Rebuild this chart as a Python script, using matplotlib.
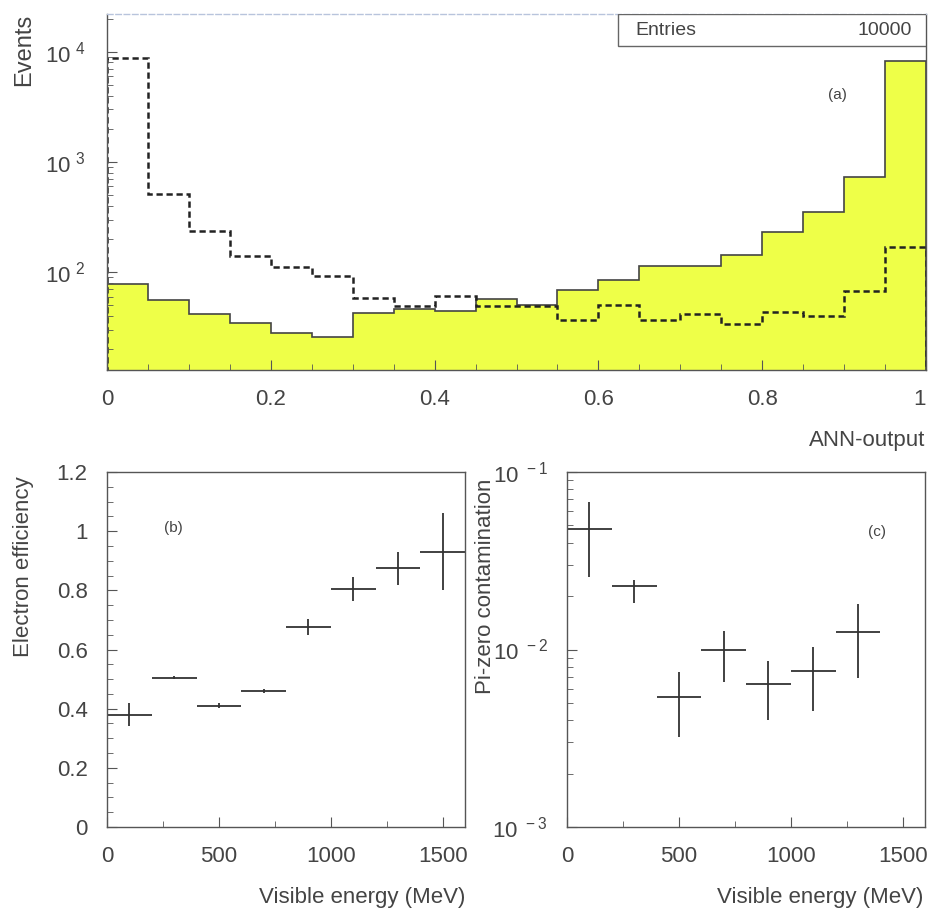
import numpy as np
import matplotlib
matplotlib.use('Agg')
import matplotlib.pyplot as plt
from matplotlib.ticker import FixedLocator, MultipleLocator, NullFormatter, LogLocator

plt.rcParams['font.family'] = ['Liberation Sans', 'DejaVu Sans']
plt.rcParams['mathtext.fontset'] = 'custom'
plt.rcParams['mathtext.rm'] = 'Liberation Sans'

# (a) ANN output histograms, 20 bins of 0.05
ann_edges = [0.0, 0.05, 0.1, 0.15, 0.2, 0.25, 0.3, 0.35, 0.4, 0.45, 0.5,
             0.55, 0.6, 0.65, 0.7, 0.75, 0.8, 0.85, 0.9, 0.95, 1.0]
electrons = [79, 56, 42, 35, 28, 26, 43, 46, 45, 57, 50,
             69, 86, 113, 113, 143, 234, 351, 730, 8300]
pizeros = [8800, 515, 236, 140, 111, 92, 59, 49, 61, 49, 49,
           37, 51, 37, 42, 34, 44, 40, 67, 168]
entries = 10000

# (b) electron efficiency vs visible energy
energy_b = [100, 300, 500, 700, 900, 1100, 1300, 1500]
eff = [0.38, 0.505, 0.41, 0.46, 0.675, 0.805, 0.875, 0.93]
eff_err = [0.04, 0.005, 0.008, 0.006, 0.027, 0.04, 0.056, 0.13]

# (c) pi-zero contamination vs visible energy
energy_c = [100, 300, 500, 700, 900, 1100, 1300]
contam = [0.048, 0.0228, 0.0054, 0.0100, 0.0064, 0.0076, 0.0126]
contam_lo = [0.0257, 0.0183, 0.0032, 0.0066, 0.0040, 0.0045, 0.0069]
contam_hi = [0.0678, 0.0247, 0.0075, 0.0127, 0.0086, 0.0103, 0.0180]
bin_half = 100

yellow = '#EEFF48'
fs = 16

fig = plt.figure(figsize=(9.3, 9.13), dpi=100)

def frame(ax):
    for s in ax.spines.values():
        s.set_color('#555555')
        s.set_linewidth(1.0)
    ax.tick_params(which='both', direction='in', colors='#555555',
                   labelcolor='#444444', labelsize=fs)
    ax.tick_params(which='major', length=7)
    ax.tick_params(which='minor', length=4)

# ---- panel (a)
ax = fig.add_axes([107 / 930, 1 - 370 / 913, 819 / 930, 356 / 913])
ax.stairs(electrons, ann_edges, baseline=1, fill=True, color=yellow)
ax.stairs(electrons, ann_edges, baseline=1, color='#444444', lw=1.2)
ax.stairs(pizeros, ann_edges, baseline=1, color='#222222', lw=1.8,
          linestyle=(0, (2.5, 1.5)))
ax.set_yscale('log')
ax.set_xlim(0, 1)
ax.set_ylim(13, 22000)
frame(ax)
ax.spines['top'].set_color('#b8c4dc')
ax.spines['top'].set_linestyle((0, (4, 2)))
ax.xaxis.set_major_locator(FixedLocator([0, 0.2, 0.4, 0.6, 0.8, 1.0]))
ax.xaxis.set_minor_locator(MultipleLocator(0.05))
ax.set_xticklabels(['0', '0.2', '0.4', '0.6', '0.8', '1'])
ax.get_xticklabels()[-1].set_horizontalalignment('right')
ax.tick_params(axis='x', which='major', pad=14)
ax.yaxis.set_major_locator(FixedLocator([1e2, 1e3, 1e4]))
ax.yaxis.set_minor_locator(LogLocator(base=10, subs=np.arange(2, 10)))
ax.yaxis.set_minor_formatter(NullFormatter())
ax.set_yticklabels([r'$\mathregular{10^{\ 2}}$', r'$\mathregular{10^{\ 3}}$',
                    r'$\mathregular{10^{\ 4}}$'])
ax.tick_params(axis='y', which='major', pad=16)
ax.tick_params(top=False, right=False, which='both')
ax.add_patch(plt.Rectangle((0.624, 0.91), 0.376, 0.09, transform=ax.transAxes,
                           facecolor='white', edgecolor='#666666', lw=1.0, zorder=5))
ax.text(0.645, 0.955, 'Entries', transform=ax.transAxes, fontsize=14,
        color='#444444', va='center', zorder=6)
ax.text(0.983, 0.955, str(entries), transform=ax.transAxes, fontsize=14,
        color='#444444', va='center', ha='right', zorder=6)
ax.text(0.88, 0.76, '(a)', transform=ax.transAxes, fontsize=11, color='#444444')
fig.text(24 / 930, 1 - 14 / 913, 'Events', rotation=90, ha='center', va='top',
         fontsize=17, color='#444444')
fig.text(925 / 930, 1 - 440 / 913, 'ANN-output', ha='right', va='center',
         fontsize=16, color='#444444')

# ---- panel (b)
axb = fig.add_axes([107 / 930, 1 - 827 / 913, 358 / 930, 355 / 913])
axb.errorbar(energy_b, eff, xerr=bin_half, yerr=eff_err, fmt='none',
             ecolor='#333333', elinewidth=1.3, capsize=0)
axb.set_xlim(0, 1600)
axb.set_ylim(0, 1.2)
frame(axb)
axb.xaxis.set_major_locator(MultipleLocator(500))
axb.xaxis.set_minor_locator(MultipleLocator(250))
axb.set_yticks([0, 0.2, 0.4, 0.6, 0.8, 1.0, 1.2])
axb.set_yticklabels(['0', '0.2', '0.4', '0.6', '0.8', '1', '1.2'])
axb.yaxis.set_minor_locator(MultipleLocator(0.05))
axb.tick_params(axis='both', which='major', pad=14)
axb.tick_params(top=False, right=False, which='both')
axb.text(0.16, 0.83, '(b)', transform=axb.transAxes, fontsize=11, color='#444444')
fig.text(24 / 930, 1 - 567 / 913, 'Electron efficiency', rotation=90,
         ha='center', va='center', fontsize=16, color='#444444')
fig.text(465 / 930, 1 - 897 / 913, 'Visible energy (MeV)', ha='right',
         va='center', fontsize=16, color='#444444')

# ---- panel (c)
axc = fig.add_axes([567 / 930, 1 - 827 / 913, 358 / 930, 355 / 913])
yerr_c = [np.array(contam) - np.array(contam_lo), np.array(contam_hi) - np.array(contam)]
axc.errorbar(energy_c, contam, xerr=bin_half, yerr=yerr_c, fmt='none',
             ecolor='#333333', elinewidth=1.3, capsize=0)
axc.set_yscale('log')
axc.set_xlim(0, 1600)
axc.set_ylim(1e-3, 1e-1)
frame(axc)
axc.xaxis.set_major_locator(MultipleLocator(500))
axc.xaxis.set_minor_locator(MultipleLocator(250))
axc.yaxis.set_major_locator(FixedLocator([1e-3, 1e-2, 1e-1]))
axc.yaxis.set_minor_locator(LogLocator(base=10, subs=np.arange(2, 10)))
axc.yaxis.set_minor_formatter(NullFormatter())
axc.set_yticklabels([r'$\mathregular{10^{\ -3}}$', r'$\mathregular{10^{\ -2}}$',
                     r'$\mathregular{10^{\ -1}}$'])
axc.tick_params(axis='both', which='major', pad=14)
axc.tick_params(top=False, right=False, which='both')
axc.text(0.84, 0.82, '(c)', transform=axc.transAxes, fontsize=11, color='#444444')
fig.text(485 / 930, 1 - 586 / 913, 'Pi-zero contamination', rotation=90,
         ha='center', va='center', fontsize=16, color='#444444')
fig.text(923 / 930, 1 - 897 / 913, 'Visible energy (MeV)', ha='right',
         va='center', fontsize=16, color='#444444')

fig.savefig('out.png', dpi=100)
